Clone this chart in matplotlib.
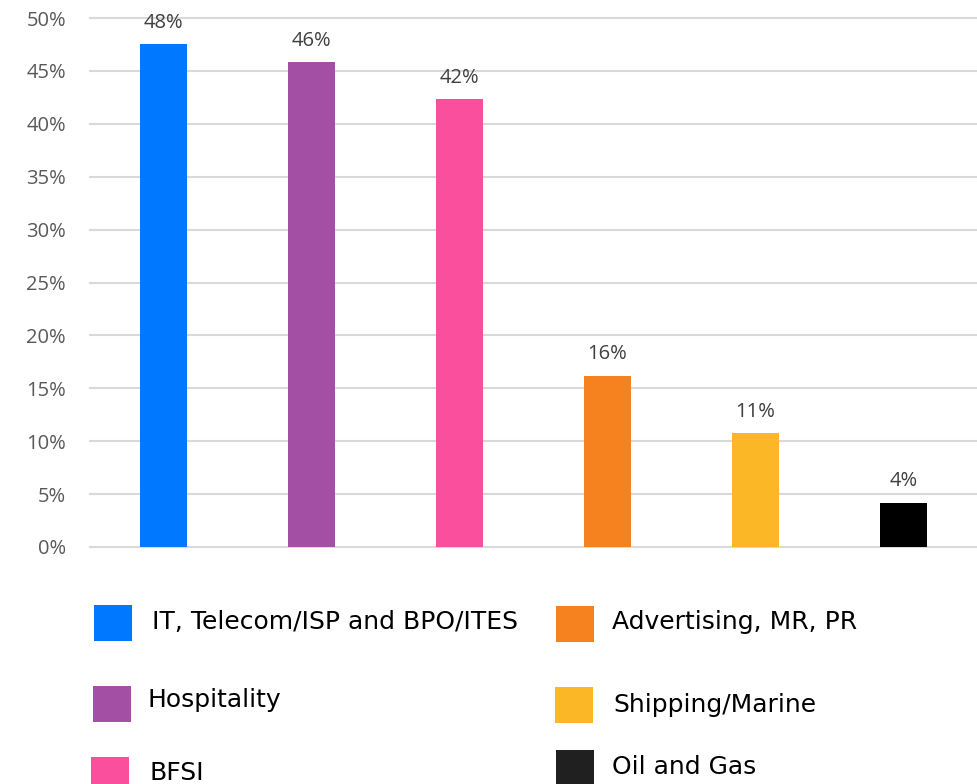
import matplotlib.pyplot as plt
from matplotlib.patches import Rectangle
from matplotlib.ticker import FuncFormatter

# Data
sectors = ["IT, Telecom/ISP and BPO/ITES", "Hospitality", "BFSI",
           "Advertising, MR, PR", "Shipping/Marine", "Oil and Gas"]
shares = [47.5, 45.8, 42.3, 16.2, 10.8, 4.2]
share_labels = ["48%", "46%", "42%", "16%", "11%", "4%"]
colors = ["#0078FF", "#A34FA3", "#F94F9C", "#F5821F", "#FBB726", "#000000"]
yticks = [0, 5, 10, 15, 20, 25, 30, 35, 40, 45, 50]

fig = plt.figure(figsize=(9.77, 7.84), dpi=100)
ax = fig.add_axes([89.5 / 977, 237 / 784, 888 / 977, 529 / 784])

xs = list(range(len(sectors)))
bars = ax.bar(xs, shares, width=0.318, color=colors, zorder=3)

for b, lab in zip(bars, share_labels):
    ax.annotate(lab, (b.get_x() + b.get_width() / 2, b.get_height()),
                xytext=(0, 8), textcoords="offset points", ha="center", va="bottom",
                fontsize=14.5, color="#404040", family="Open Sans")

ax.set_xlim(-0.5, 5.5)
ax.set_ylim(0, 50)
ax.set_yticks(yticks)
ax.yaxis.set_major_formatter(FuncFormatter(lambda v, p: f"{v:.0f}%"))
ax.set_xticks([])
ax.grid(axis="y", color="#d9d9d9", linewidth=1.5, zorder=0)
for gl in ax.get_ygridlines():
    gl.set_clip_on(False)
ax.tick_params(axis="y", length=0, pad=17, labelsize=14.5, labelcolor="#595959")
for lab in ax.get_yticklabels():
    lab.set_family("Open Sans")
for s in ax.spines.values():
    s.set_visible(False)

# Legend laid out like the original (two columns, uneven rows)
W, H = 977, 784
# (square x, square top y, text x, text center y) in pixels
legend_pos = [(94, 605, 152, 622), (93, 686, 147, 700), (91, 757, 150, 773),
              (556, 606, 612, 622), (555, 687, 613, 705), (556, 750, 612, 767)]
for (sx, sy, tx, ty), name, c in zip(legend_pos, sectors, colors):
    fc = "#202020" if c == "#000000" else c
    fig.patches.append(Rectangle((sx / W, 1 - (sy + 36) / H), 38 / W, 36 / H,
                                 transform=fig.transFigure, facecolor=fc,
                                 edgecolor="none"))
    fig.text(tx / W, 1 - ty / H, name, ha="left", va="center",
             fontsize=18, color="#000000", family="DejaVu Sans")

fig.savefig("out.png", dpi=100)
